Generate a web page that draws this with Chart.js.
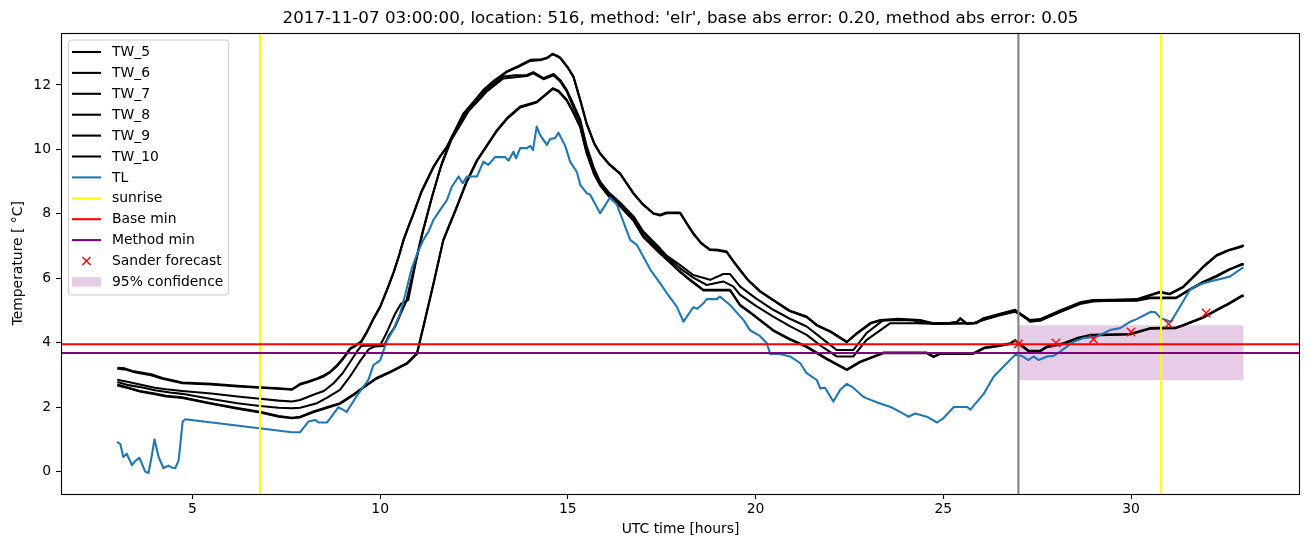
<!DOCTYPE html>
<html>
<head>
<meta charset="utf-8">
<script src="https://cdn.jsdelivr.net/npm/chart.js@4.4.0/dist/chart.umd.min.js"></script>
<style>
  html, body { margin: 0; padding: 0; background: #ffffff; }
  #wrap { width: 1310px; height: 547px; }
</style>
</head>
<body>
<div id="wrap"><canvas id="c" width="1310" height="547"></canvas></div>
<script>
// ---------------- DATA ----------------
const TITLE = "2017-11-07 03:00:00, location: 516, method: 'elr', base abs error: 0.20, method abs error: 0.05";
const X_LABEL = "UTC time [hours]";
const Y_LABEL = "Temperature [ °C]";
const X_MIN = 1.5, X_MAX = 34.5, Y_MIN = -0.70, Y_MAX = 13.63;
const X_TICKS = [5, 10, 15, 20, 25, 30];
const Y_TICKS = [0, 2, 4, 6, 8, 10, 12];

const TW_5 = [[3.0,3.22],[3.2,3.2],[3.4,3.12],[3.6,3.08],[3.9,3.02],[4.2,2.9],[4.5,2.82],[4.73,2.76],[5.5,2.72],[6.2,2.66],[6.8,2.61],[7.3,2.58],[7.65,2.55],[7.87,2.72],[8.1,2.8],[8.3,2.88],[8.5,2.98],[8.67,3.1],[8.85,3.3],[9.0,3.5],[9.2,3.82],[9.35,3.92],[9.5,4.05],[9.65,4.35],[9.8,4.7],[10.0,5.12],[10.2,5.7],[10.35,6.16],[10.5,6.7],[10.62,7.19],[10.75,7.6],[10.89,8.02],[11.1,8.7],[11.42,9.47],[11.6,9.8],[11.78,10.09],[12.0,10.6],[12.22,11.12],[12.5,11.5],[12.75,11.85],[13.05,12.15],[13.37,12.42],[13.7,12.6],[14.0,12.78],[14.3,12.8],[14.45,12.85],[14.59,12.97],[14.7,12.92],[14.8,12.85],[15.0,12.55],[15.15,12.26],[15.33,11.54],[15.5,10.81],[15.7,10.2],[15.86,9.88],[16.1,9.55],[16.39,9.26],[16.75,8.64],[17.0,8.3],[17.28,8.02],[17.46,7.97],[17.63,8.04],[17.99,8.04],[18.2,7.65],[18.34,7.4],[18.55,7.1],[18.78,6.9],[19.0,6.88],[19.23,6.83],[19.4,6.55],[19.59,6.26],[19.8,5.95],[20.12,5.6],[20.47,5.33],[20.9,5.0],[21.36,4.81],[21.63,4.55],[22.0,4.35],[22.43,4.03],[22.69,4.29],[23.07,4.62],[23.32,4.7],[23.8,4.74],[24.38,4.7],[24.74,4.6],[25.18,4.62],[25.36,4.65],[25.45,4.76],[25.62,4.6],[25.88,4.62],[26.07,4.76],[26.51,4.9],[26.91,5.02],[27.04,4.91],[27.31,4.7],[27.58,4.73],[28.11,5.0],[28.64,5.25],[28.99,5.32],[29.5,5.33],[30.15,5.35],[30.5,5.48],[30.77,5.58],[31.03,5.52],[31.39,5.74],[31.7,6.1],[31.92,6.36],[32.28,6.72],[32.6,6.88],[32.95,7.0],[33.0,7.03]];

const TW_6 = [[3.0,3.19],[3.2,3.17],[3.4,3.1],[3.6,3.05],[3.9,2.99],[4.2,2.88],[4.5,2.8],[4.73,2.74],[5.5,2.7],[6.2,2.64],[6.8,2.6],[7.3,2.57],[7.65,2.54],[7.87,2.7],[8.1,2.78],[8.3,2.86],[8.5,2.95],[8.67,3.08],[8.85,3.27],[9.0,3.47],[9.2,3.8],[9.35,3.9],[9.5,4.02],[9.65,4.32],[9.8,4.68],[10.0,5.1],[10.2,5.68],[10.35,6.14],[10.5,6.68],[10.62,7.16],[10.75,7.58],[10.89,8.0],[11.1,8.67],[11.42,9.44],[11.6,9.78],[11.78,10.07],[12.0,10.57],[12.22,11.09],[12.5,11.47],[12.75,11.82],[13.05,12.12],[13.37,12.4],[13.7,12.57],[14.0,12.75],[14.3,12.78],[14.45,12.83],[14.59,12.95],[14.7,12.9],[14.8,12.83],[15.0,12.53],[15.15,12.24],[15.33,11.52],[15.5,10.79],[15.7,10.18],[15.86,9.86],[16.1,9.53],[16.39,9.24],[16.75,8.62],[17.0,8.28],[17.28,8.0],[17.46,7.95],[17.63,8.02],[17.99,8.02],[18.2,7.63],[18.34,7.38],[18.55,7.08],[18.78,6.88],[19.0,6.86],[19.23,6.81],[19.4,6.53],[19.59,6.24],[19.8,5.93],[20.12,5.58],[20.47,5.31],[20.9,4.98],[21.36,4.79],[21.63,4.53],[22.0,4.33],[22.43,4.01],[22.69,4.27],[23.07,4.6],[23.32,4.68],[23.8,4.72],[24.38,4.68],[24.74,4.58],[25.18,4.6],[25.36,4.63],[25.45,4.74],[25.62,4.58],[25.88,4.6],[26.07,4.74],[26.51,4.88],[26.91,5.0],[27.04,4.89],[27.31,4.68],[27.58,4.71],[28.11,4.98],[28.64,5.23],[28.99,5.3],[29.5,5.31],[30.15,5.33],[30.5,5.46],[30.77,5.56],[31.03,5.5],[31.39,5.72],[31.7,6.08],[31.92,6.34],[32.28,6.7],[32.6,6.86],[32.95,6.98],[33.0,7.01]];

const TW_7 = [[3.0,2.85],[3.3,2.78],[3.6,2.7],[4.0,2.6],[4.3,2.55],[4.73,2.5],[5.5,2.42],[6.2,2.33],[6.8,2.26],[7.3,2.2],[7.65,2.17],[7.87,2.22],[8.22,2.38],[8.5,2.5],[8.76,2.74],[9.0,3.05],[9.2,3.4],[9.4,3.75],[9.5,3.9],[10.0,3.92],[10.15,4.25],[10.4,4.9],[10.55,5.2],[10.75,5.33],[10.95,6.5],[11.15,7.5],[11.4,8.6],[11.65,9.6],[11.91,10.4],[12.35,11.23],[12.84,11.85],[13.28,12.26],[13.6,12.3],[13.91,12.31],[14.08,12.4],[14.35,12.21],[14.62,12.34],[14.8,12.15],[14.97,11.85],[15.15,11.4],[15.33,10.92],[15.5,10.1],[15.7,9.4],[15.86,9.0],[16.1,8.65],[16.39,8.35],[16.75,7.92],[17.01,7.45],[17.46,6.92],[17.63,6.7],[18.0,6.4],[18.34,6.1],[18.79,5.95],[19.14,6.13],[19.32,6.13],[19.59,5.74],[20.0,5.38],[20.47,5.02],[20.9,4.75],[21.36,4.5],[21.8,4.1],[22.16,3.77],[22.6,3.77],[22.95,4.29],[23.4,4.7],[24.2,4.7],[24.38,4.6],[25.0,4.6],[25.8,4.6],[26.07,4.72],[26.51,4.87],[26.91,4.98],[27.04,4.9],[27.31,4.65],[27.58,4.68],[28.11,4.95],[28.64,5.2],[28.99,5.28],[29.5,5.3],[30.15,5.3],[30.5,5.38],[31.2,5.38],[31.57,5.64],[31.9,5.85],[32.28,6.05],[32.6,6.25],[32.95,6.44],[33.0,6.44]];

const TW_8 = [[3.0,2.78],[3.3,2.68],[3.7,2.6],[4.0,2.52],[4.4,2.45],[4.73,2.41],[5.5,2.25],[6.2,2.12],[6.8,2.03],[7.3,1.98],[7.65,1.96],[7.87,1.98],[8.32,2.12],[8.6,2.3],[8.93,2.53],[9.2,2.95],[9.45,3.4],[9.7,3.8],[9.85,3.88],[10.1,3.9],[10.25,4.25],[10.4,4.5],[10.55,4.9],[10.7,5.3],[10.9,6.3],[11.1,7.3],[11.35,8.4],[11.6,9.4],[11.9,10.3],[12.35,11.18],[12.84,11.8],[13.28,12.2],[13.91,12.28],[14.08,12.36],[14.35,12.18],[14.62,12.3],[14.8,12.1],[14.97,11.8],[15.15,11.3],[15.33,10.85],[15.5,10.0],[15.7,9.3],[15.86,8.95],[16.1,8.6],[16.39,8.3],[16.75,7.88],[17.01,7.4],[17.46,6.85],[17.63,6.65],[18.0,6.3],[18.34,6.02],[18.7,5.79],[19.14,5.9],[19.41,5.74],[19.59,5.48],[20.0,5.15],[20.47,4.81],[20.9,4.52],[21.36,4.24],[21.8,3.85],[22.16,3.57],[22.6,3.57],[22.95,4.08],[23.58,4.6],[24.38,4.6],[25.0,4.58],[25.8,4.6],[26.07,4.7],[26.51,4.85],[26.91,4.96],[27.04,4.88],[27.31,4.68],[27.58,4.7],[28.11,4.96],[28.64,5.22],[28.99,5.3],[29.5,5.3],[30.15,5.32],[30.5,5.4],[31.2,5.4],[31.57,5.66],[31.9,5.88],[32.28,6.08],[32.6,6.27],[32.95,6.42],[33.0,6.42]];

const TW_9 = [[3.0,2.7],[3.3,2.6],[3.6,2.5],[4.0,2.42],[4.3,2.35],[4.73,2.3],[5.5,2.12],[6.2,1.97],[6.8,1.85],[7.3,1.72],[7.65,1.67],[7.87,1.7],[8.22,1.86],[8.6,2.0],[8.93,2.12],[9.3,2.4],[9.65,2.7],[9.9,2.9],[10.27,3.1],[10.71,3.36],[10.98,3.67],[11.15,4.5],[11.42,5.84],[11.68,7.19],[12.04,8.22],[12.3,9.0],[12.58,9.67],[13.11,10.6],[13.4,11.0],[13.73,11.33],[14.17,11.48],[14.44,11.74],[14.6,11.9],[14.75,11.82],[14.97,11.54],[15.15,11.15],[15.33,10.71],[15.5,9.9],[15.7,9.25],[15.86,8.9],[16.1,8.55],[16.39,8.25],[16.75,7.8],[17.01,7.3],[17.46,6.78],[17.63,6.6],[18.0,6.2],[18.26,5.95],[18.61,5.64],[19.32,5.64],[19.59,5.17],[19.85,4.95],[20.47,4.39],[20.9,4.12],[21.36,3.88],[21.9,3.5],[22.43,3.17],[22.78,3.41],[23.14,3.57],[23.4,3.69],[24.56,3.69],[24.74,3.57],[24.92,3.67],[25.8,3.67],[26.1,3.85],[26.5,3.92],[26.78,3.98],[26.91,4.08],[27.27,3.75],[27.58,3.75],[27.76,3.88],[28.2,3.98],[28.55,4.14],[28.91,4.24],[29.97,4.27],[30.5,4.45],[31.2,4.47],[31.39,4.55],[31.92,4.79],[32.28,5.02],[32.6,5.22],[32.95,5.46],[33.0,5.46]];

const TW_10 = [[3.0,2.67],[3.3,2.58],[3.6,2.48],[4.0,2.4],[4.3,2.33],[4.73,2.28],[5.5,2.1],[6.2,1.95],[6.8,1.83],[7.3,1.7],[7.65,1.65],[7.87,1.68],[8.22,1.84],[8.6,1.98],[8.93,2.1],[9.3,2.38],[9.65,2.68],[9.9,2.88],[10.27,3.08],[10.71,3.34],[10.98,3.65],[11.15,4.47],[11.42,5.81],[11.68,7.16],[12.04,8.19],[12.3,8.97],[12.58,9.64],[13.11,10.57],[13.4,10.97],[13.73,11.3],[14.17,11.46],[14.44,11.72],[14.6,11.88],[14.75,11.8],[14.97,11.52],[15.15,11.13],[15.33,10.69],[15.5,9.88],[15.7,9.23],[15.86,8.88],[16.1,8.53],[16.39,8.23],[16.75,7.78],[17.01,7.28],[17.46,6.76],[17.63,6.58],[18.0,6.18],[18.26,5.93],[18.61,5.62],[19.32,5.62],[19.59,5.15],[19.85,4.93],[20.47,4.37],[20.9,4.1],[21.36,3.86],[21.9,3.48],[22.43,3.15],[22.78,3.39],[23.14,3.55],[23.4,3.67],[24.56,3.67],[24.74,3.55],[24.92,3.65],[25.8,3.65],[26.1,3.83],[26.5,3.9],[26.78,3.96],[26.91,4.06],[27.27,3.73],[27.58,3.73],[27.76,3.86],[28.2,3.96],[28.55,4.12],[28.91,4.22],[29.97,4.25],[30.5,4.43],[31.2,4.45],[31.39,4.53],[31.92,4.77],[32.28,5.0],[32.6,5.2],[32.95,5.44],[33.0,5.44]];

const TL = [[2.99,0.92],[3.08,0.85],[3.16,0.45],[3.25,0.55],[3.39,0.2],[3.48,0.33],[3.59,0.42],[3.74,0.0],[3.83,-0.05],[3.92,0.5],[3.99,1.0],[4.1,0.45],[4.23,0.1],[4.36,0.18],[4.45,0.12],[4.54,0.1],[4.63,0.33],[4.67,0.75],[4.74,1.55],[4.81,1.62],[7.65,1.22],[7.87,1.22],[8.09,1.55],[8.27,1.6],[8.36,1.52],[8.58,1.52],[8.67,1.65],[8.89,2.0],[9.11,1.85],[9.38,2.35],[9.69,2.85],[9.82,3.3],[10.0,3.45],[10.18,4.05],[10.35,4.4],[10.53,4.9],[10.67,5.5],[10.84,6.3],[11.0,6.8],[11.15,7.19],[11.29,7.45],[11.42,7.81],[11.6,8.12],[11.78,8.43],[11.91,8.84],[12.09,9.16],[12.2,8.95],[12.31,9.16],[12.58,9.16],[12.75,9.62],[12.88,9.52],[13.06,9.76],[13.33,9.76],[13.42,9.65],[13.55,9.93],[13.62,9.72],[13.73,10.04],[13.91,10.04],[14.0,10.11],[14.07,9.98],[14.17,10.71],[14.26,10.45],[14.44,10.14],[14.53,10.32],[14.66,10.35],[14.75,10.52],[14.93,10.11],[15.06,9.62],[15.24,9.3],[15.33,8.9],[15.5,8.64],[15.59,8.6],[15.86,8.02],[16.12,8.5],[16.3,8.3],[16.66,7.19],[16.84,7.03],[17.2,6.26],[17.46,5.84],[17.64,5.53],[17.9,5.12],[18.08,4.65],[18.34,5.1],[18.45,5.05],[18.61,5.22],[18.7,5.35],[18.97,5.35],[19.05,5.43],[19.32,5.17],[19.68,4.7],[19.85,4.39],[20.12,4.2],[20.3,3.98],[20.39,3.65],[20.65,3.65],[20.92,3.57],[21.19,3.36],[21.36,3.05],[21.63,2.84],[21.72,2.58],[21.85,2.6],[22.07,2.17],[22.25,2.53],[22.43,2.72],[22.6,2.6],[22.87,2.32],[22.96,2.27],[23.23,2.15],[23.41,2.07],[23.6,2.0],[23.85,1.85],[24.07,1.7],[24.25,1.8],[24.56,1.7],[24.83,1.52],[25.0,1.65],[25.28,2.0],[25.64,2.0],[25.72,1.92],[26.07,2.4],[26.34,2.94],[26.69,3.36],[26.91,3.62],[27.09,3.59],[27.27,3.46],[27.4,3.57],[27.54,3.46],[27.76,3.57],[27.94,3.59],[28.11,3.72],[28.47,4.03],[28.73,4.14],[29.09,4.19],[29.44,4.39],[29.71,4.45],[29.98,4.65],[30.15,4.73],[30.53,4.96],[30.65,4.94],[30.79,4.76],[31.06,4.65],[31.33,5.17],[31.57,5.64],[31.8,5.8],[32.1,5.9],[32.63,6.05],[32.94,6.3],[33.0,6.33]];

const SUNRISE = [6.8, 30.8];
const FORECAST_TIME = 27.0;
const BASE_MIN = 3.95;
const METHOD_MIN = 3.68;
const SANDER_X = [27, 28, 29, 30, 31, 32];
const SANDER_Y = [3.96, 3.99, 4.11, 4.33, 4.58, 4.92];
const CONF_X = [27, 33];
const CONF_LOW = 2.83;
const CONF_HIGH = 4.54;

const LEGEND = ['TW_5','TW_6','TW_7','TW_8','TW_9','TW_10','TL','sunrise','Base min','Method min','Sander forecast','95% confidence'];

// ---------------- BUILD ----------------
const FONT = "'DejaVu Sans', 'Liberation Sans', sans-serif";
const LW = 2.08;
const xy = a => a.map(p => ({x: p[0], y: p[1]}));
const lineDs = (label, arr, color, width, order) => ({
  label, data: xy(arr), borderColor: color, backgroundColor: color,
  borderWidth: width, pointRadius: 0, pointHoverRadius: 0, tension: 0, fill: false, order,
  borderJoinStyle: 'round', borderCapStyle: 'butt'
});

const datasets = [];
const TWS = [['TW_5',TW_5],['TW_6',TW_6],['TW_7',TW_7],['TW_8',TW_8],['TW_9',TW_9],['TW_10',TW_10]];
TWS.forEach(([n,a], i) => datasets.push(lineDs(n, a, '#000000', LW, 20 - i * 0.1)));
datasets.push(lineDs('TL', TL, '#1f77b4', LW, 15));
SUNRISE.forEach((s, i) => datasets.push(lineDs(i === 0 ? 'sunrise' : 'sunrise_' + i, [[s, Y_MIN], [s, Y_MAX]], '#ffff00', LW, 10)));
datasets.push(lineDs('forecast_time', [[FORECAST_TIME, Y_MIN], [FORECAST_TIME, Y_MAX]], '#808080', LW, 9));
datasets.push(lineDs('Base min', [[X_MIN, BASE_MIN], [X_MAX, BASE_MIN]], '#ff0000', LW, 8));
datasets.push(lineDs('Method min', [[X_MIN, METHOD_MIN], [X_MAX, METHOD_MIN]], '#800080', LW, 7));
datasets.push({
  label: 'Sander forecast', data: SANDER_X.map((x, i) => ({x, y: SANDER_Y[i]})),
  showLine: false, pointStyle: 'crossRot', pointRadius: 5.9, pointHoverRadius: 5.9,
  borderColor: '#ff0000', backgroundColor: '#ff0000', pointBorderWidth: 1.4, borderWidth: 1.4, order: 1
});
datasets.push({
  label: 'conf_low', data: CONF_X.map(x => ({x, y: CONF_LOW})),
  borderWidth: 0, pointRadius: 0, borderColor: 'rgba(0,0,0,0)', fill: false, order: 30
});
datasets.push({
  label: '95% confidence', data: CONF_X.map(x => ({x, y: CONF_HIGH})),
  borderWidth: 0, pointRadius: 0, borderColor: 'rgba(0,0,0,0)',
  backgroundColor: 'rgba(128,0,128,0.2)', fill: '-1', order: 29
});

const framePlugin = {
  id: 'frame',
  afterDraw(chart) {
    const {ctx, chartArea: ca} = chart;
    ctx.save();
    ctx.strokeStyle = '#000';
    ctx.lineWidth = 1.1;
    ctx.strokeRect(Math.round(ca.left) + 0.5, Math.round(ca.top) + 0.5,
                   Math.round(ca.right - ca.left) - 1, Math.round(ca.bottom - ca.top) - 1);
    // title
    ctx.fillStyle = '#000';
    ctx.font = "16.7px " + FONT;
    ctx.textAlign = 'center';
    ctx.textBaseline = 'middle';
    ctx.fillText(TITLE, (ca.left + ca.right) / 2, 18.5);
    // legend
    const x0 = ca.left + 7.5, y0 = ca.top + 7.5, w = 160, h = 255;
    ctx.beginPath();
    const r = 3;
    ctx.moveTo(x0 + r, y0);
    ctx.arcTo(x0 + w, y0, x0 + w, y0 + h, r);
    ctx.arcTo(x0 + w, y0 + h, x0, y0 + h, r);
    ctx.arcTo(x0, y0 + h, x0, y0, r);
    ctx.arcTo(x0, y0, x0 + w, y0, r);
    ctx.closePath();
    ctx.fillStyle = 'rgba(255,255,255,0.8)';
    ctx.fill();
    ctx.strokeStyle = '#cccccc';
    ctx.lineWidth = 1;
    ctx.stroke();
    ctx.font = "13.9px " + FONT;
    ctx.textAlign = 'left';
    ctx.textBaseline = 'middle';
    LEGEND.forEach((lab, i) => {
      const ds = chart.data.datasets.find(d => d.label === lab);
      const yy = y0 + 12 + i * 20.9;
      const hx0 = x0 + 3.5, hx1 = x0 + 32.5;
      if (lab === 'Sander forecast') {
        const cx = (hx0 + hx1) / 2, s = 4.1;
        ctx.strokeStyle = ds.borderColor; ctx.lineWidth = 1.4;
        ctx.beginPath();
        ctx.moveTo(cx - s, yy - s); ctx.lineTo(cx + s, yy + s);
        ctx.moveTo(cx - s, yy + s); ctx.lineTo(cx + s, yy - s);
        ctx.stroke();
      } else if (lab === '95% confidence') {
        ctx.fillStyle = ds.backgroundColor;
        ctx.fillRect(hx0, yy - 4.7, hx1 - hx0, 9.4);
      } else {
        ctx.strokeStyle = ds.borderColor; ctx.lineWidth = ds.borderWidth;
        ctx.beginPath(); ctx.moveTo(hx0, yy); ctx.lineTo(hx1, yy); ctx.stroke();
      }
      ctx.fillStyle = '#000';
      ctx.fillText(lab, x0 + 43.5, yy + 0.5);
    });
    ctx.restore();
  }
};

new Chart(document.getElementById('c'), {
  type: 'line',
  data: { datasets },
  options: {
    responsive: false,
    devicePixelRatio: 1,
    animation: false,
    normalized: true,
    layout: { padding: { left: 0, right: 10, top: 32.5, bottom: 0 } },
    plugins: { legend: { display: false }, title: { display: false }, tooltip: { enabled: false } },
    events: [],
    scales: {
      x: {
        type: 'linear', min: X_MIN, max: X_MAX,
        afterBuildTicks: s => { s.ticks = X_TICKS.map(v => ({value: v})); },
        afterFit: s => { s.height = 53; },
        grid: { display: true, drawOnChartArea: false, drawTicks: true, tickLength: 5, color: '#000', tickWidth: 1.1 },
        border: { display: false },
        ticks: { color: '#000', font: { family: FONT, size: 13.9 }, padding: 2, maxRotation: 0, autoSkip: false,
                 callback: v => String(v) },
        title: { display: true, text: X_LABEL, color: '#000', font: { family: FONT, size: 13.9 }, padding: { top: 0, bottom: 9.7 } }
      },
      y: {
        type: 'linear', min: Y_MIN, max: Y_MAX,
        afterBuildTicks: s => { s.ticks = Y_TICKS.map(v => ({value: v})); },
        afterFit: s => { s.width = 61; },
        grid: { display: true, drawOnChartArea: false, drawTicks: true, tickLength: 5, color: '#000', tickWidth: 1.1 },
        border: { display: false },
        ticks: { color: '#000', font: { family: FONT, size: 13.9 }, padding: 5, autoSkip: false,
                 callback: v => String(v) },
        title: { display: true, text: Y_LABEL, color: '#000', font: { family: FONT, size: 13.9 }, padding: { top: 9.7, bottom: 0 } }
      }
    }
  },
  plugins: [framePlugin]
});
</script>
</body>
</html>
